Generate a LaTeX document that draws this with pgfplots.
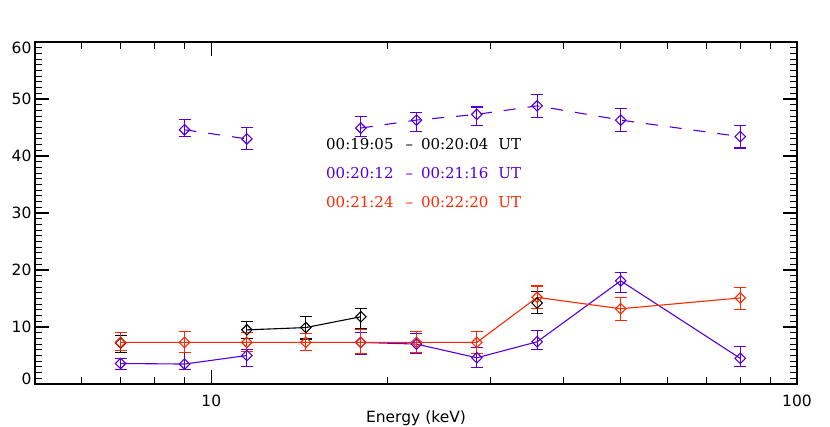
\documentclass[border=0pt]{standalone}
\usepackage{pgfplots}
\pgfplotsset{compat=1.18}
\usepackage{fontspec}
\setmainfont{DejaVu Sans}
\newfontfamily\legfont{DejaVu Serif}
\definecolor{cblue}{RGB}{85,0,220}
\definecolor{cred}{RGB}{255,40,0}

\pgfplotstableread{
x y ep em
7 7.2 1.3 1.6
9 nan 0 0
11.5 9.5 1.5 1.5
14.5 9.9 2.0 2.0
18 11.8 1.5 2.0
22.4 nan 0 0
28.4 nan 0 0
36 14.2 2.1 1.8
}\tblack

\pgfplotstableread{
x y ep em
9 44.6 1.8 1.2
11.5 43.0 2.0 1.8
14.5 nan 0 0
18 44.9 2.0 1.5
22.4 46.3 1.3 2.0
28.4 47.3 1.3 2.0
36 48.8 2.0 2.1
50 46.3 2.1 2.0
80 43.4 2.0 2.0
}\tbluehi

\pgfplotstableread{
x y ep em
7 3.6 0.8 1.0
9 3.5 2.0 0.9
11.5 5.0 1.1 2.0
14.5 nan 0 0
18 7.3 1.8 2.1
22.4 7.0 1.8 1.7
28.4 4.6 1.8 1.7
36 7.4 2.0 1.4
50 18.1 1.5 2.0
80 4.5 2.0 1.5
}\tbluelo

\pgfplotstableread{
x y ep em
7 7.3 1.8 1.4
9 7.3 1.9 1.8
11.5 7.3 1.7 1.6
14.5 7.3 1.5 1.4
18 7.3 2.2 1.9
22.4 7.3 1.9 1.7
28.4 7.3 1.9 1.9
36 15.2 2.0 2.0
50 13.2 2.0 2.0
80 15.1 1.8 2.0
}\tred

\begin{document}
\begin{tikzpicture}
\useasboundingbox (0,0) rectangle (830pt,427pt);
\begin{axis}[
  at={(35pt,43pt)}, anchor=south west,
  scale only axis, width=762pt, height=342pt,
  xmode=log, xmin=5, xmax=100, ymin=0, ymax=60,
  xtick={10,100}, xticklabels={10,100},
  minor xtick={6,7,8,9,20,30,40,50,60,70,80,90},
  ytick={0,10,...,60},
  yticklabels={\raisebox{5pt}[\height][\depth]{0},10,20,30,40,50,\raisebox{-5.5pt}[\height][\depth]{60}},
  minor y tick num=9,
  major tick length=14pt, minor tick length=7pt,
  tick style={line width=1.1pt, black},
  axis line style={line width=1.2pt},
  tick label style={font=\fontsize{15.5pt}{18pt}\selectfont},
  xticklabel style={anchor=base, yshift=-22.7pt},
  xlabel={Energy (keV)},
  xlabel style={font=\fontsize{15.5pt}{18pt}\selectfont, at={(axis description cs:0.5,0)}, anchor=base, yshift=-39pt},
  unbounded coords=jump,
  clip=false,
  every axis plot/.append style={line width=1.1pt, mark=square, mark size=3.7pt, mark options={solid, rotate=45, line width=1.1pt}},
  error bars/y dir=both, error bars/y explicit,
  error bars/error mark options={rotate=90, mark size=6pt, line width=1.1pt, solid},
  error bars/error bar style={line width=1.1pt, solid},
]
\addplot[black] table[x=x, y=y, y error plus=ep, y error minus=em] {\tblack};
\addplot[cblue, dash pattern=on 12pt off 12pt] table[x=x, y=y, y error plus=ep, y error minus=em] {\tbluehi};
\addplot[cblue] table[x=x, y=y, y error plus=ep, y error minus=em] {\tbluelo};
\addplot[cred] table[x=x, y=y, y error plus=ep, y error minus=em] {\tred};
\end{axis}
\begin{scope}[every node/.style={inner sep=0pt, anchor=base west, font=\legfont\fontsize{15pt}{18pt}\selectfont}]
\node[text=black] at (326pt,277.7pt) {00:19:05\hspace{12pt}–\hspace{8pt}00:20:04\hspace{10pt}UT};
\node[text=cblue] at (326pt,248.7pt) {00:20:12\hspace{12pt}–\hspace{8pt}00:21:16\hspace{10pt}UT};
\node[text=cred] at (326pt,219.3pt) {00:21:24\hspace{12pt}–\hspace{8pt}00:22:20\hspace{10pt}UT};
\end{scope}
\end{tikzpicture}
\end{document}
